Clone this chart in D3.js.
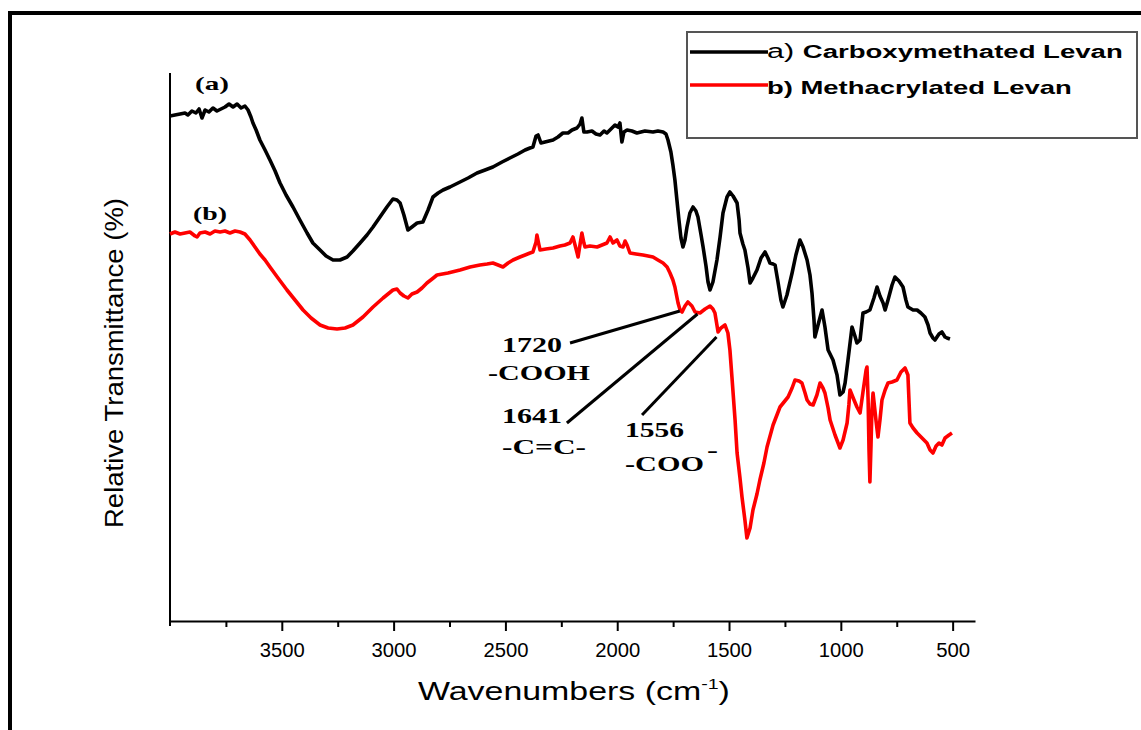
<!DOCTYPE html>
<html>
<head>
<meta charset="utf-8">
<script src="https://cdn.jsdelivr.net/npm/d3@7"></script>
<style>
  body { margin: 0; background: #fff; }
  svg { display: block; }
</style>
</head>
<body>
<div id="chart"></div>
<script>
// (a) Carboxymethated Levan
const waveA = [4000,3978,3955,3933,3920,3902,3884,3870,3857,3843,3826,3808,3790,3772,3754,3736,3718,3700,3682,3665,
  3651,3638,3629,3615,3598,3575,3553,3530,3508,3481,3450,3419,3387,3361,3329,3302,3271,3240,3208,3182,
  3150,3119,3092,3061,3030,3003,2985,2971,2954,2936,2918,2895,2869,2846,2824,2801,2779,2748,2703,2667,
  2627,2591,2556,2515,2480,2444,2412,2390,2377,2363,2354,2341,2323,2287,2265,2243,2220,2202,2180,2166,
  2158,2149,2135,2113,2095,2077,2059,2046,2028,2010,1997,1988,1979,1970,1956,1934,1912,1876,1840,1818,
  1795,1782,1773,1760,1751,1742,1733,1724,1715,1706,1697,1688,1675,1661,1648,1639,1625,1616,1603,1594,
  1585,1572,1554,1540,1527,1509,1496,1482,1464,1455,1451,1438,1429,1415,1406,1393,1375,1357,1339,1326,
  1317,1303,1294,1281,1268,1259,1241,1218,1201,1183,1169,1151,1138,1129,1120,1116,1102,1084,1071,1057,
  1035,1017,1004,990,981,968,950,937,928,914,901,887,870,852,838,825,811,802,789,771,
  758,740,722,709,700,677,659,642,624,610,601,588,579,561,548,534,525,512];
const transA = [50.5,50.6,50.7,50.8,50.6,51.0,50.8,51.2,50.3,51.1,50.9,51.3,51.0,51.2,51.4,51.7,51.4,51.7,51.3,51.5,
  51.1,50.4,49.8,49.1,48.1,47.1,46.1,45.0,43.8,42.6,41.4,40.1,38.8,37.8,37.1,36.5,36.1,36.1,36.4,37.0,
  37.8,38.6,39.4,40.4,41.4,42.2,42.1,41.8,40.6,39.1,39.4,39.8,39.9,41.1,42.4,42.8,43.1,43.4,43.9,44.3,
  44.8,45.1,45.4,45.9,46.3,46.7,47.1,47.3,47.4,48.5,48.6,47.8,47.9,48.1,48.4,48.8,48.8,49.1,49.3,49.7,
  50.3,48.9,48.9,49.0,48.7,48.6,49.0,48.8,49.2,49.6,49.4,49.8,47.9,48.9,49.1,49.0,48.8,49.0,48.9,49.0,
  48.9,48.7,48.1,46.9,45.6,44.1,42.1,40.1,38.3,37.4,38.1,39.4,40.8,41.4,41.0,40.4,38.6,37.4,35.5,33.9,
  33.1,33.9,36.1,38.4,40.8,42.4,42.9,42.5,41.8,40.1,38.8,37.7,37.1,35.3,33.8,34.3,35.1,36.3,36.9,36.3,
  35.8,35.7,35.6,33.9,32.1,31.4,32.6,34.8,36.6,38.1,37.4,36.1,34.6,32.8,30.1,28.4,29.6,31.1,29.4,27.1,
  26.1,24.6,22.6,22.9,23.8,26.1,29.4,28.5,27.8,28.1,30.8,30.9,31.1,32.3,33.4,32.5,31.8,31.1,32.1,33.6,
  34.4,34.0,33.4,32.1,31.4,31.1,31.1,30.8,30.4,29.6,28.8,28.3,28.1,28.7,28.9,28.4,28.3,28.2];

// (b) Methacrylated Levan
const waveB = [4000,3978,3955,3933,3911,3888,3879,3866,3843,3821,3799,3776,3754,3732,3709,3687,3665,3642,3620,3598,
  3575,3553,3517,3477,3441,3405,3369,3329,3293,3253,3217,3182,3137,3092,3047,3003,2985,2971,2954,2936,
  2918,2895,2873,2851,2828,2806,2757,2703,2658,2614,2582,2556,2533,2511,2488,2466,2435,2412,2390,2377,
  2363,2359,2350,2345,2319,2287,2256,2234,2211,2198,2184,2175,2166,2158,2149,2144,2122,2090,2068,2046,
  2032,2019,2001,1988,1974,1965,1956,1943,1916,1885,1862,1840,1818,1795,1777,1764,1751,1742,1728,1719,
  1710,1697,1684,1666,1652,1630,1607,1585,1572,1563,1549,1536,1518,1505,1496,1487,1473,1464,1451,1442,
  1429,1420,1406,1393,1375,1362,1344,1330,1303,1272,1254,1236,1218,1205,1187,1174,1160,1151,1138,1124,
  1107,1093,1080,1071,1057,1048,1026,1004,990,972,964,959,941,928,914,901,887,883,878,874,
  870,865,861,856,843,834,825,816,802,789,771,749,731,713,700,691,677,659,637,615,
  601,588,574,561,548,534,516,503];
const transB = [38.7,38.9,38.7,38.8,38.9,38.5,38.4,38.8,38.9,38.7,39.0,38.9,39.0,38.8,39.0,38.9,38.7,38.1,37.4,36.7,
  36.1,35.4,34.3,33.1,32.1,31.1,30.3,29.6,29.3,29.2,29.3,29.6,30.4,31.4,32.3,33.1,33.2,32.8,32.5,32.3,
  32.7,32.9,33.3,33.8,34.2,34.6,34.8,35.1,35.4,35.6,35.7,35.8,35.6,35.4,35.8,36.1,36.4,36.6,36.8,36.9,
  37.9,38.6,37.6,37.1,37.2,37.3,37.5,37.6,37.8,38.4,37.2,36.4,37.7,38.8,37.8,37.4,37.5,37.4,37.6,37.8,
  38.4,37.8,38.1,37.5,37.4,38.0,37.6,36.8,36.7,36.6,36.5,36.4,36.1,35.8,35.4,34.8,34.1,33.4,31.8,31.1,
  30.9,31.5,31.9,31.5,30.9,30.8,31.2,31.5,31.2,30.8,28.9,29.3,29.6,28.8,27.1,24.4,20.1,16.8,14.3,12.4,
  10.1,8.3,9.3,11.1,12.7,14.1,15.8,17.4,19.6,21.4,21.9,22.4,23.3,24.1,24.0,23.8,22.8,22.1,21.7,21.6,
  22.6,23.8,23.3,22.8,21.3,20.1,18.6,17.3,18.1,19.8,21.6,23.1,22.1,21.4,20.8,22.9,25.1,25.4,22.1,17.1,
  13.9,17.6,21.1,22.8,20.1,18.4,20.1,22.1,23.1,23.8,23.9,24.1,24.9,25.3,24.6,19.8,19.3,18.8,18.3,17.8,
  17.1,16.8,17.5,17.8,17.6,18.3,18.6,18.8];

const seriesTags = ["a)", "b)"];
const seriesNames = ["Carboxymethated Levan", "Methacrylated Levan"];
const seriesColors = ["#000000", "#ff0000"];
const curveTags = ["(a)", "(b)"];

const majorTicks = [3500, 3000, 2500, 2000, 1500, 1000, 500];
const minorTicks = [3750, 3250, 2750, 2250, 1750, 1250, 750];

// assigned bands on curve (b)
const bandWaves = [1720, 1641, 1556];
const bandValues = [31.0, 30.7, 28.4];
const bandGroups = ["-COOH", "-C=C-", "-COO"];
// where each leader line starts (wavenumber, transmittance)
const leaderWaves = [2211, 2225, 1889];
const leaderValues = [27.8, 19.8, 20.6];

const W = 1141, H = 730;
const serif = "'Times New Roman', 'Liberation Serif', serif";
const sans = "Arial, 'Liberation Sans', sans-serif";

const svg = d3.select("#chart").append("svg")
  .attr("width", W)
  .attr("height", H);

// outer frame (only left and top edges fall inside the picture)
svg.append("path")
  .attr("d", `M10,${H} V13 H${W}`)
  .attr("fill", "none")
  .attr("stroke", "#000")
  .attr("stroke-width", 4);

const x = d3.scaleLinear().domain([4000, 400]).range([170, 975]);
const y = d3.scaleLinear().domain([0, 54.8]).range([621, 73]);

// stretch a group horizontally so its text spans w pixels
const fit = (g, w) => {
  const bw = g.node().getBBox().width;
  g.attr("transform", g.attr("transform") + ` scale(${w / bw},1)`);
};

// x axis
const xAxis = d3.axisBottom(x)
  .tickValues(majorTicks)
  .tickSize(10)
  .tickSizeOuter(0)
  .tickPadding(12)
  .tickFormat(d3.format("d"));

const gx = svg.append("g")
  .attr("transform", `translate(0,${y(0)})`)
  .call(xAxis);
gx.select(".domain").attr("stroke-width", 2);
gx.selectAll(".tick line").attr("stroke-width", 2);
gx.selectAll(".tick text")
  .attr("font-family", sans)
  .attr("font-size", 20)
  .attr("fill", "#000")
  .attr("textLength", d => d >= 1000 ? 45 : 34)
  .attr("lengthAdjust", "spacingAndGlyphs");

const gxm = svg.append("g")
  .attr("transform", `translate(0,${y(0)})`)
  .call(d3.axisBottom(x).tickValues(minorTicks).tickSize(6).tickFormat(""));
gxm.select(".domain").remove();
gxm.selectAll(".tick line").attr("stroke-width", 2);

// y axis line (no ticks)
svg.append("line")
  .attr("x1", x(4000)).attr("x2", x(4000))
  .attr("y1", y(54.8)).attr("y2", y(0) + 5)
  .attr("stroke", "#000")
  .attr("stroke-width", 2);

// axis titles
const xt = svg.append("g").attr("transform", "translate(418,700)");
const xtText = xt.append("text")
  .attr("font-family", sans)
  .attr("font-size", 26)
  .attr("fill", "#000");
xtText.append("tspan").text("Wavenumbers (cm");
xtText.append("tspan").attr("font-size", 15).attr("dy", -11).text("-1");
xtText.append("tspan").attr("dy", 11).text(")");
fit(xt, 312);

svg.append("text")
  .attr("transform", "translate(123,363) rotate(-90)")
  .attr("text-anchor", "middle")
  .attr("font-family", sans)
  .attr("font-size", 26)
  .attr("textLength", 330)
  .attr("lengthAdjust", "spacingAndGlyphs")
  .text("Relative Transmittance (%)");

// spectra
const line = d3.line()
  .x(d => x(d[0]))
  .y(d => y(d[1]));

const series = [d3.zip(waveA, transA), d3.zip(waveB, transB)];
svg.append("g")
  .selectAll("path")
  .data(series)
  .join("path")
  .attr("d", line)
  .attr("fill", "none")
  .attr("stroke", (d, i) => seriesColors[i])
  .attr("stroke-width", 3.6)
  .attr("stroke-linejoin", "round");

// curve tags
svg.append("g")
  .selectAll("text")
  .data(curveTags)
  .join("text")
  .attr("x", (d, i) => x(3888) + (i ? -2 : 0))
  .attr("y", (d, i) => i ? 220 : 90)
  .attr("font-family", serif)
  .attr("font-weight", "bold")
  .attr("font-size", 19)
  .attr("textLength", 34)
  .attr("lengthAdjust", "spacingAndGlyphs")
  .text(d => d);

// band annotations
const bands = bandWaves.map((w, i) => ({
  w, v: bandValues[i], group: bandGroups[i],
  lw: leaderWaves[i], lv: leaderValues[i]
}));
const ann = svg.append("g");
ann.selectAll("line")
  .data(bands)
  .join("line")
  .attr("x1", d => x(d.lw))
  .attr("y1", d => y(d.lv))
  .attr("x2", d => x(d.w))
  .attr("y2", d => y(d.v))
  .attr("stroke", "#000")
  .attr("stroke-width", 3);

// label layout: [number x, number baseline, number width, group x, group baseline, group width]
const labelLayout = [
  [502, 352, 60, 488, 380, 102],
  [502, 423, 60, 502, 454, 84],
  [625, 437, 59, 625, 471, 79]
];
bands.forEach((d, i) => {
  const L = labelLayout[i];
  ann.append("text")
    .attr("x", L[0]).attr("y", L[1])
    .attr("font-family", serif).attr("font-weight", "bold").attr("font-size", 22)
    .attr("textLength", L[2]).attr("lengthAdjust", "spacingAndGlyphs")
    .text(d.w);
  ann.append("text")
    .attr("x", L[3]).attr("y", L[4])
    .attr("font-family", serif).attr("font-weight", "bold").attr("font-size", 22)
    .attr("textLength", L[5]).attr("lengthAdjust", "spacingAndGlyphs")
    .text(d.group);
});
// superscript minus of -COO
ann.append("text")
  .attr("x", 707).attr("y", 457)
  .attr("font-family", serif).attr("font-weight", "bold").attr("font-size", 22)
  .attr("textLength", 11).attr("lengthAdjust", "spacingAndGlyphs")
  .text("-");

// legend
const legend = svg.append("g");
legend.append("rect")
  .attr("x", 687).attr("y", 32)
  .attr("width", 450).attr("height", 106)
  .attr("fill", "none")
  .attr("stroke", "#555")
  .attr("stroke-width", 2);

const rows = legend.selectAll("g.row")
  .data(seriesNames)
  .join("g")
  .attr("class", "row");
rows.append("line")
  .attr("x1", 690).attr("x2", 768)
  .attr("y1", (d, i) => 52 + i * 33)
  .attr("y2", (d, i) => 52 + i * 33)
  .attr("stroke", (d, i) => seriesColors[i])
  .attr("stroke-width", 3.5);
const legendWidths = [356, 305];
rows.each(function (d, i) {
  const g = d3.select(this).append("g")
    .attr("transform", `translate(767,${58 + i * 36})`);
  const t = g.append("text")
    .attr("font-family", sans)
    .attr("font-size", 18)
    .attr("fill", "#000");
  t.append("tspan")
    .attr("font-size", i ? 18 : 20)
    .attr("font-weight", i ? "bold" : "normal")
    .text(seriesTags[i] + " ");
  t.append("tspan")
    .attr("font-weight", "bold")
    .text(d);
  fit(g, legendWidths[i]);
});
</script>
</body>
</html>
